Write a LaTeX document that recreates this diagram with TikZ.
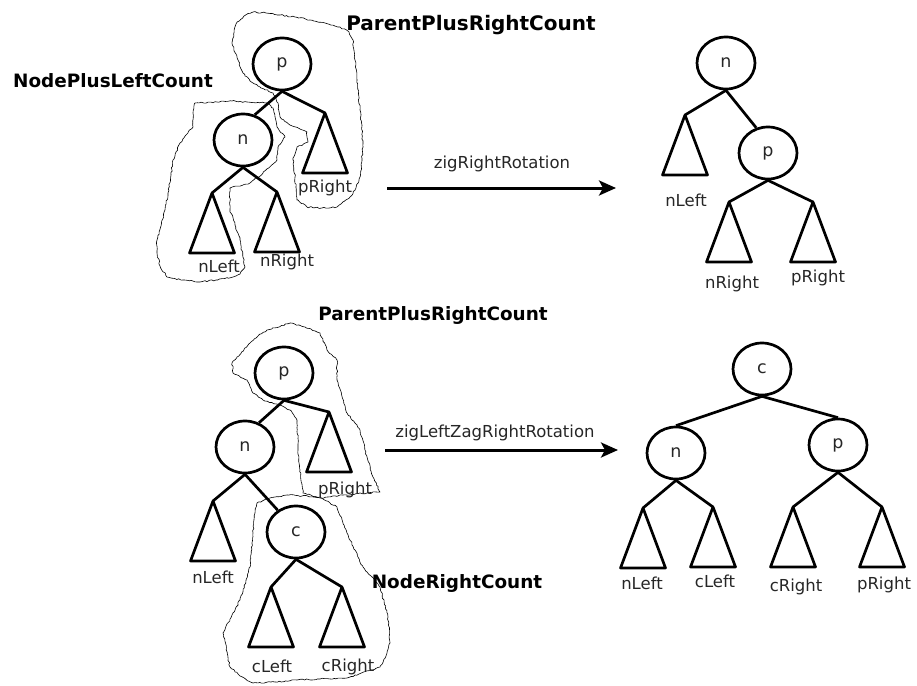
\documentclass[tikz,border=0pt]{standalone}
\usepackage{fontspec}
\setmainfont{DejaVu Sans}
\usetikzlibrary{shapes.geometric,arrows.meta,decorations.pathmorphing}
\begin{document}
\begin{tikzpicture}[x=1pt,y=-1pt,
  tree/.style={line width=2.7pt,line join=round},
  vert/.style={ellipse,draw,line width=2.7pt,minimum width=58pt,minimum height=52pt,inner sep=0pt,font=\fontsize{17.5}{19}\selectfont,text=black!85},
  lbl/.style={font=\fontsize{16.5}{18}\selectfont,text=black!85,inner sep=0pt},
  title/.style={font=\bfseries\fontsize{18.4}{20}\selectfont,inner sep=0pt},
  blob/.style={line width=0.6pt,line join=round,decorate,decoration={random steps,segment length=2.2pt,amplitude=0.7pt}},
  arr/.style={line width=3pt,-{Stealth[length=17pt,width=15pt,inset=4pt]}}]
\useasboundingbox (0,0) rectangle (917,685);
\pgfmathsetseed{7}
\newcommand\tri[1]{\draw[tree] (#1) -- ++(-22.5,60) -- ++(45,0) -- cycle;}

% ---------- top left ----------
\draw[blob] plot[sharp cycle] coordinates {(238,60) (232,43) (236,24) (244,16) (253,12) (266,13) (280,15) (295,17) (310,20) (325,23) (340,27) (349,32) (353,40) (355,60) (357,80) (360,110) (363,143) (362,160) (360,177) (356,188) (350,197) (337,207) (322,208) (307,207) (297,200) (295,177) (293,160) (297,147) (308,142) (307,132) (290,125) (280,117) (278,103) (273,93) (260,87) (250,81) (243,73)};
\draw[blob] plot[sharp cycle] coordinates {(195,103) (217,102) (232,101) (247,102) (267,103) (273,108) (277,127) (285,137) (278,147) (277,160) (263,173) (250,183) (230,188) (230,210) (235,225) (240,240) (245,267) (240,274) (233,277) (216,280) (200,282) (183,280) (167,277) (160,266) (157,253) (157,240) (165,210) (168,193) (171,175) (173,160) (180,143) (186,135) (193,127) (193,113)};

\node[vert] (p1) at (282,64) {p};
\node[vert] (n1) at (243,140) {n};
\coordinate (pR1) at (325,113);
\coordinate (nL1) at (212,193);
\coordinate (nR1) at (277,192);
\draw[tree] (p1.south) -- (n1.65);
\draw[tree] (p1.south) -- (pR1);
\draw[tree] (n1.south) -- (nL1);
\draw[tree] (n1.south) -- (nR1);
\tri{pR1}\tri{nL1}\tri{nR1}
\node[lbl] (tpR1) at (325,188) {pRight};
\node[lbl] (tnL1) at (219,266) {nLeft};
\node[lbl] (tnR1) at (287,262) {nRight};
\node[title] (t1) at (113,81) {NodePlusLeftCount};
\node[title,font=\bfseries\fontsize{20}{22}\selectfont] (t2) at (471,25) {ParentPlusRightCount};

% ---------- arrow 1 ----------
\coordinate (a1s) at (387,188);
\coordinate (a1e) at (616,188);
\draw[arr] (a1s) -- (a1e);
\node[lbl] (ta1) at (502,164) {zigRightRotation};

% ---------- top right ----------
\node[vert] (n2) at (726,63) {n};
\node[vert] (p2) at (768,153) {p};
\coordinate (nL2) at (685,115);
\coordinate (nR2) at (729,202);
\coordinate (pR2) at (813,202);
\draw[tree] (n2.south) -- (nL2);
\draw[tree] (n2.south) -- (p2.115);
\draw[tree] (p2.south) -- (nR2);
\draw[tree] (p2.south) -- (pR2);
\tri{nL2}\tri{nR2}\tri{pR2}
\node[lbl] (tnL2) at (686,200) {nLeft};
\node[lbl] (tnR2) at (732,284) {nRight};
\node[lbl] (tpR2) at (818,278) {pRight};

% ---------- bottom left ----------
\draw[blob] plot[sharp cycle] coordinates {(250,343) (258,336) (267,330) (290,323) (305,327) (320,333) (327,350) (337,360) (337,380) (347,413) (360,430) (367,457) (373,477) (380,492) (367,493) (343,495) (320,498) (303,493) (300,470) (298,447) (297,420) (290,410) (280,405) (263,400) (253,393) (247,380) (233,373) (232,363) (237,357)};
\draw[blob] plot[sharp cycle] coordinates {(257,503) (270,498) (287,495) (320,497) (337,507) (347,533) (355,550) (363,567) (380,587) (388,617) (390,643) (386,656) (380,667) (347,678) (320,679) (297,680) (275,682) (253,683) (240,676) (230,667) (223,633) (232,615) (240,600) (250,567) (253,533) (255,513)};

\node[vert] (p3) at (284,373) {p};
\node[vert] (n3) at (245,447) {n};
\node[vert] (c3) at (296,532) {c};
\coordinate (pR3) at (329,412);
\coordinate (nL3) at (213,501);
\coordinate (cL3) at (271,587);
\coordinate (cR3) at (342,587);
\draw[tree] (p3.south) -- (n3.60);
\draw[tree] (p3.south) -- (pR3);
\draw[tree] (n3.south) -- (nL3);
\draw[tree] (n3.south) -- (c3.130);
\draw[tree] (c3.south) -- (cL3);
\draw[tree] (c3.south) -- (cR3);
\tri{pR3}\tri{nL3}\tri{cL3}\tri{cR3}
\node[lbl] (tpR3) at (345,490) {pRight};
\node[lbl] (tnL3) at (213,577) {nLeft};
\node[lbl] (tcL3) at (272,666) {cLeft};
\node[lbl] (tcR3) at (348,667) {cRight};
\node[title] (t3) at (433,315) {ParentPlusRightCount};
\node[title] (t4) at (457,583) {NodeRightCount};

% ---------- arrow 2 ----------
\coordinate (a2s) at (385,450);
\coordinate (a2e) at (618,450);
\draw[arr] (a2s) -- (a2e);
\node[lbl] (ta2) at (495,433) {zigLeftZagRightRotation};

% ---------- bottom right ----------
\node[vert] (c4) at (762,369) {c};
\node[vert] (n4) at (676,453) {n};
\node[vert] (p4) at (838,445) {p};
\coordinate (nL4) at (643,508);
\coordinate (cL4) at (713,507);
\coordinate (cR4) at (793,507);
\coordinate (pR4) at (882,507);
\draw[tree] (c4.south) -- (n4.north);
\draw[tree] (c4.south) -- (p4.north);
\draw[tree] (n4.south) -- (nL4);
\draw[tree] (n4.south) -- (cL4);
\draw[tree] (p4.south) -- (cR4);
\draw[tree] (p4.south) -- (pR4);
\tri{nL4}\tri{cL4}\tri{cR4}\tri{pR4}
\node[lbl] (tnL4) at (642,583) {nLeft};
\node[lbl] (tcL4) at (715,581) {cLeft};
\node[lbl] (tcR4) at (796,587) {cRight};
\node[lbl] (tpR4) at (884,585) {pRight};
\end{tikzpicture}
\end{document}
